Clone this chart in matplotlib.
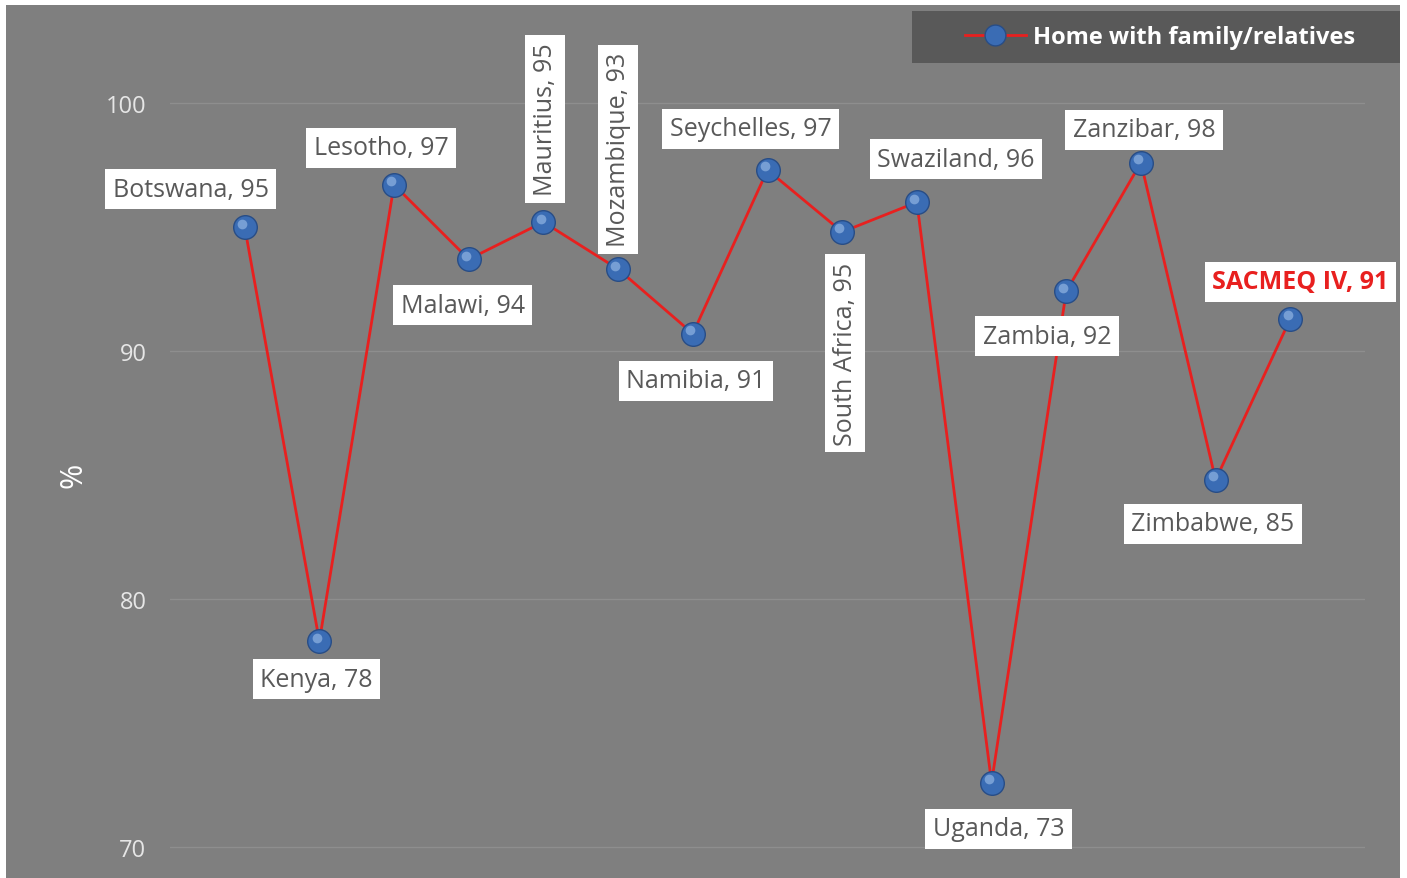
import matplotlib
matplotlib.use("Agg")
import matplotlib.pyplot as plt
from matplotlib.lines import Line2D
from matplotlib.patches import Rectangle
from matplotlib.transforms import ScaledTranslation

plt.rcParams["font.family"] = ["Open Sans", "DejaVu Sans"]

countries = ["Botswana", "Kenya", "Lesotho", "Malawi", "Mauritius", "Mozambique",
             "Namibia", "Seychelles", "South Africa", "Swaziland", "Uganda",
             "Zambia", "Zanzibar", "Zimbabwe", "SACMEQ IV"]
values = [95.0, 78.3, 96.7, 93.7, 95.2, 93.3, 90.7, 97.3, 94.8, 96.0,
          72.6, 92.4, 97.6, 84.8, 91.3]
yticks = [70, 80, 90, 100]
series_name = "Home with family/relatives"

# label offsets in pixels from each point (box centre), and rotation
label_off = [(-54, 38), (-3, -38), (-13, 37), (-6, -46), (2, 103), (0, 120),
             (3, -47), (-17, 41), (3, -121), (39, 43), (7, -46), (-19, -45),
             (3, 33), (-3, -44), (10, 37)]
label_rot = [0, 0, 0, 0, 90, 90, 0, 0, 90, 0, 0, 0, 0, 0, 0]

BG = "#7f7f7f"
RED = "#e8201f"
W, H = 1407, 879

fig = plt.figure(figsize=(W / 100, H / 100), dpi=100)
fig.patch.set_facecolor("white")
fig.patches.append(Rectangle((6 / W, 0), (1400 - 6) / W, (H - 6) / H,
                             transform=fig.transFigure, facecolor=BG,
                             edgecolor="none", zorder=-2))
fig.patches.append(Rectangle((912 / W, 1 - 64 / H), (1400 - 912) / W, 52 / H,
                             transform=fig.transFigure, facecolor="#595959",
                             edgecolor="none", zorder=-1))

ax = fig.add_axes([170 / W, 0, (1365 - 170) / W, (879 - 4.8) / H])
ax.set_facecolor("none")
for s in ax.spines.values():
    s.set_visible(False)

x = list(range(len(countries)))
ax.set_xlim(-1, 15)
ax.set_ylim(68.75, 104)
ax.set_yticks(yticks)
ax.set_yticklabels([str(t) for t in yticks], fontsize=17, color="#e6e6e6")
ax.tick_params(axis="y", length=0, pad=17)
ax.set_xticks([])
ax.grid(True, axis="y", color="#8e8e8e", linewidth=1.0)
ax.set_axisbelow(True)
ax.set_ylabel("%", fontsize=22, color="white")
ax.yaxis.set_label_coords(-0.068, 0.462)

ax.plot(x, values, color=RED, linewidth=2.0, zorder=3)
ax.plot(x, values, linestyle="none", marker="o", markersize=17,
        markerfacecolor="#3a6cb4", markeredgecolor="#284d86",
        markeredgewidth=1.0, zorder=4)
hl = ax.transData + ScaledTranslation(-2 / 72, 2.5 / 72, fig.dpi_scale_trans)
ax.plot(x, values, linestyle="none", marker="o", markersize=7,
        markerfacecolor="#a9c8ef", markeredgecolor="none", alpha=0.55,
        transform=hl, zorder=5)

for i, (c, v) in enumerate(zip(countries, values)):
    last = i == len(countries) - 1
    ax.annotate(f"{c}, {round(v):d}", (i, v), xytext=label_off[i],
                textcoords="offset pixels", ha="center", va="center",
                rotation=label_rot[i], fontsize=18,
                color=RED if last else "#595959",
                fontweight="bold" if last else "normal",
                bbox=dict(boxstyle="square,pad=0.3", facecolor="white",
                          edgecolor="none"),
                zorder=6, annotation_clip=False)

# legend
handle = Line2D([], [], color=RED, linewidth=2.0, marker="o", markersize=15,
                markerfacecolor="#3a6cb4", markeredgecolor="#284d86")
leg = fig.legend([handle], [series_name], loc="center",
                 bbox_to_anchor=(1160 / W, 1 - 38 / H), frameon=False,
                 handlelength=2.6, handletextpad=0.3,
                 prop={"size": 17, "weight": "bold"})
for t in leg.get_texts():
    t.set_color("white")

fig.savefig("out.png", dpi=100)
